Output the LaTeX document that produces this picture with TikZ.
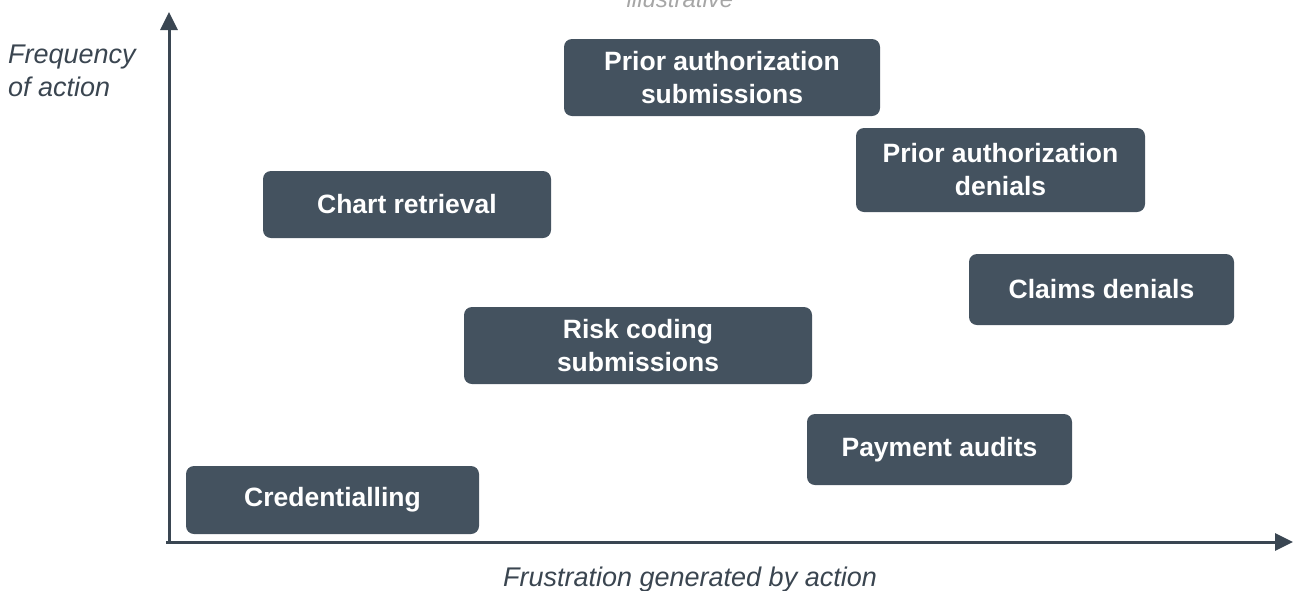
\documentclass[tikz,border=0pt]{standalone}
\usepackage{fontspec}
\setmainfont{Liberation Sans}
\usetikzlibrary{arrows.meta}
\definecolor{boxfill}{HTML}{44525F}
\definecolor{axiscol}{HTML}{3A4652}
\definecolor{labelcol}{HTML}{3A4550}
\definecolor{notecol}{HTML}{A6A6A6}
\begin{document}
\begin{tikzpicture}[x=1pt,y=-1pt,
  item/.style={fill=boxfill, rounded corners=8pt, text=white, align=center,
    font=\fontsize{26.5}{33}\selectfont\bfseries, inner sep=0pt},
  axislabel/.style={font=\fontsize{27}{33}\selectfont\itshape, text=labelcol, inner sep=0pt},
  axis/.style={draw=axiscol, line width=3pt, -{Triangle[width=17pt,length=18pt]}}]
\useasboundingbox (0,0) rectangle (1293,590);
% axes
\coordinate (origin) at (169,542);
\coordinate (ytip) at (169,12);
\coordinate (xtip) at (1293,542);
\draw[axis] (169,543.5) -- (ytip);
\draw[axis] (166,542) -- (xtip);
% activity boxes
\node[item, minimum width=316pt, minimum height=77pt] (pas) at (722,77.5) {Prior authorization\\submissions};
\node[item, minimum width=289pt, minimum height=84pt] (pad) at (1000.5,170) {Prior authorization\\denials};
\node[item, minimum width=288pt, minimum height=67pt] (chart) at (407,204.5) {Chart retrieval};
\node[item, minimum width=265pt, minimum height=71pt] (claims) at (1101.5,289.5) {Claims denials};
\node[item, minimum width=348pt, minimum height=77pt] (risk) at (638,345.5) {Risk coding\\submissions};
\node[item, minimum width=265pt, minimum height=71pt] (pay) at (939.5,449.5) {Payment audits};
\node[item, minimum width=293pt, minimum height=68pt] (cred) at (332.5,500) {Credentialling};
% labels
\node[axislabel, anchor=north west, align=left] (ylabel) at (8,45) {Frequency\\of action};
\node[axislabel, anchor=base] (xlabel) at (690,586) {Frustration generated by action};
\node[axislabel, text=notecol, font=\fontsize{24}{28}\selectfont\itshape, anchor=base] (note) at (680,7) {illustrative};
\end{tikzpicture}
\end{document}
